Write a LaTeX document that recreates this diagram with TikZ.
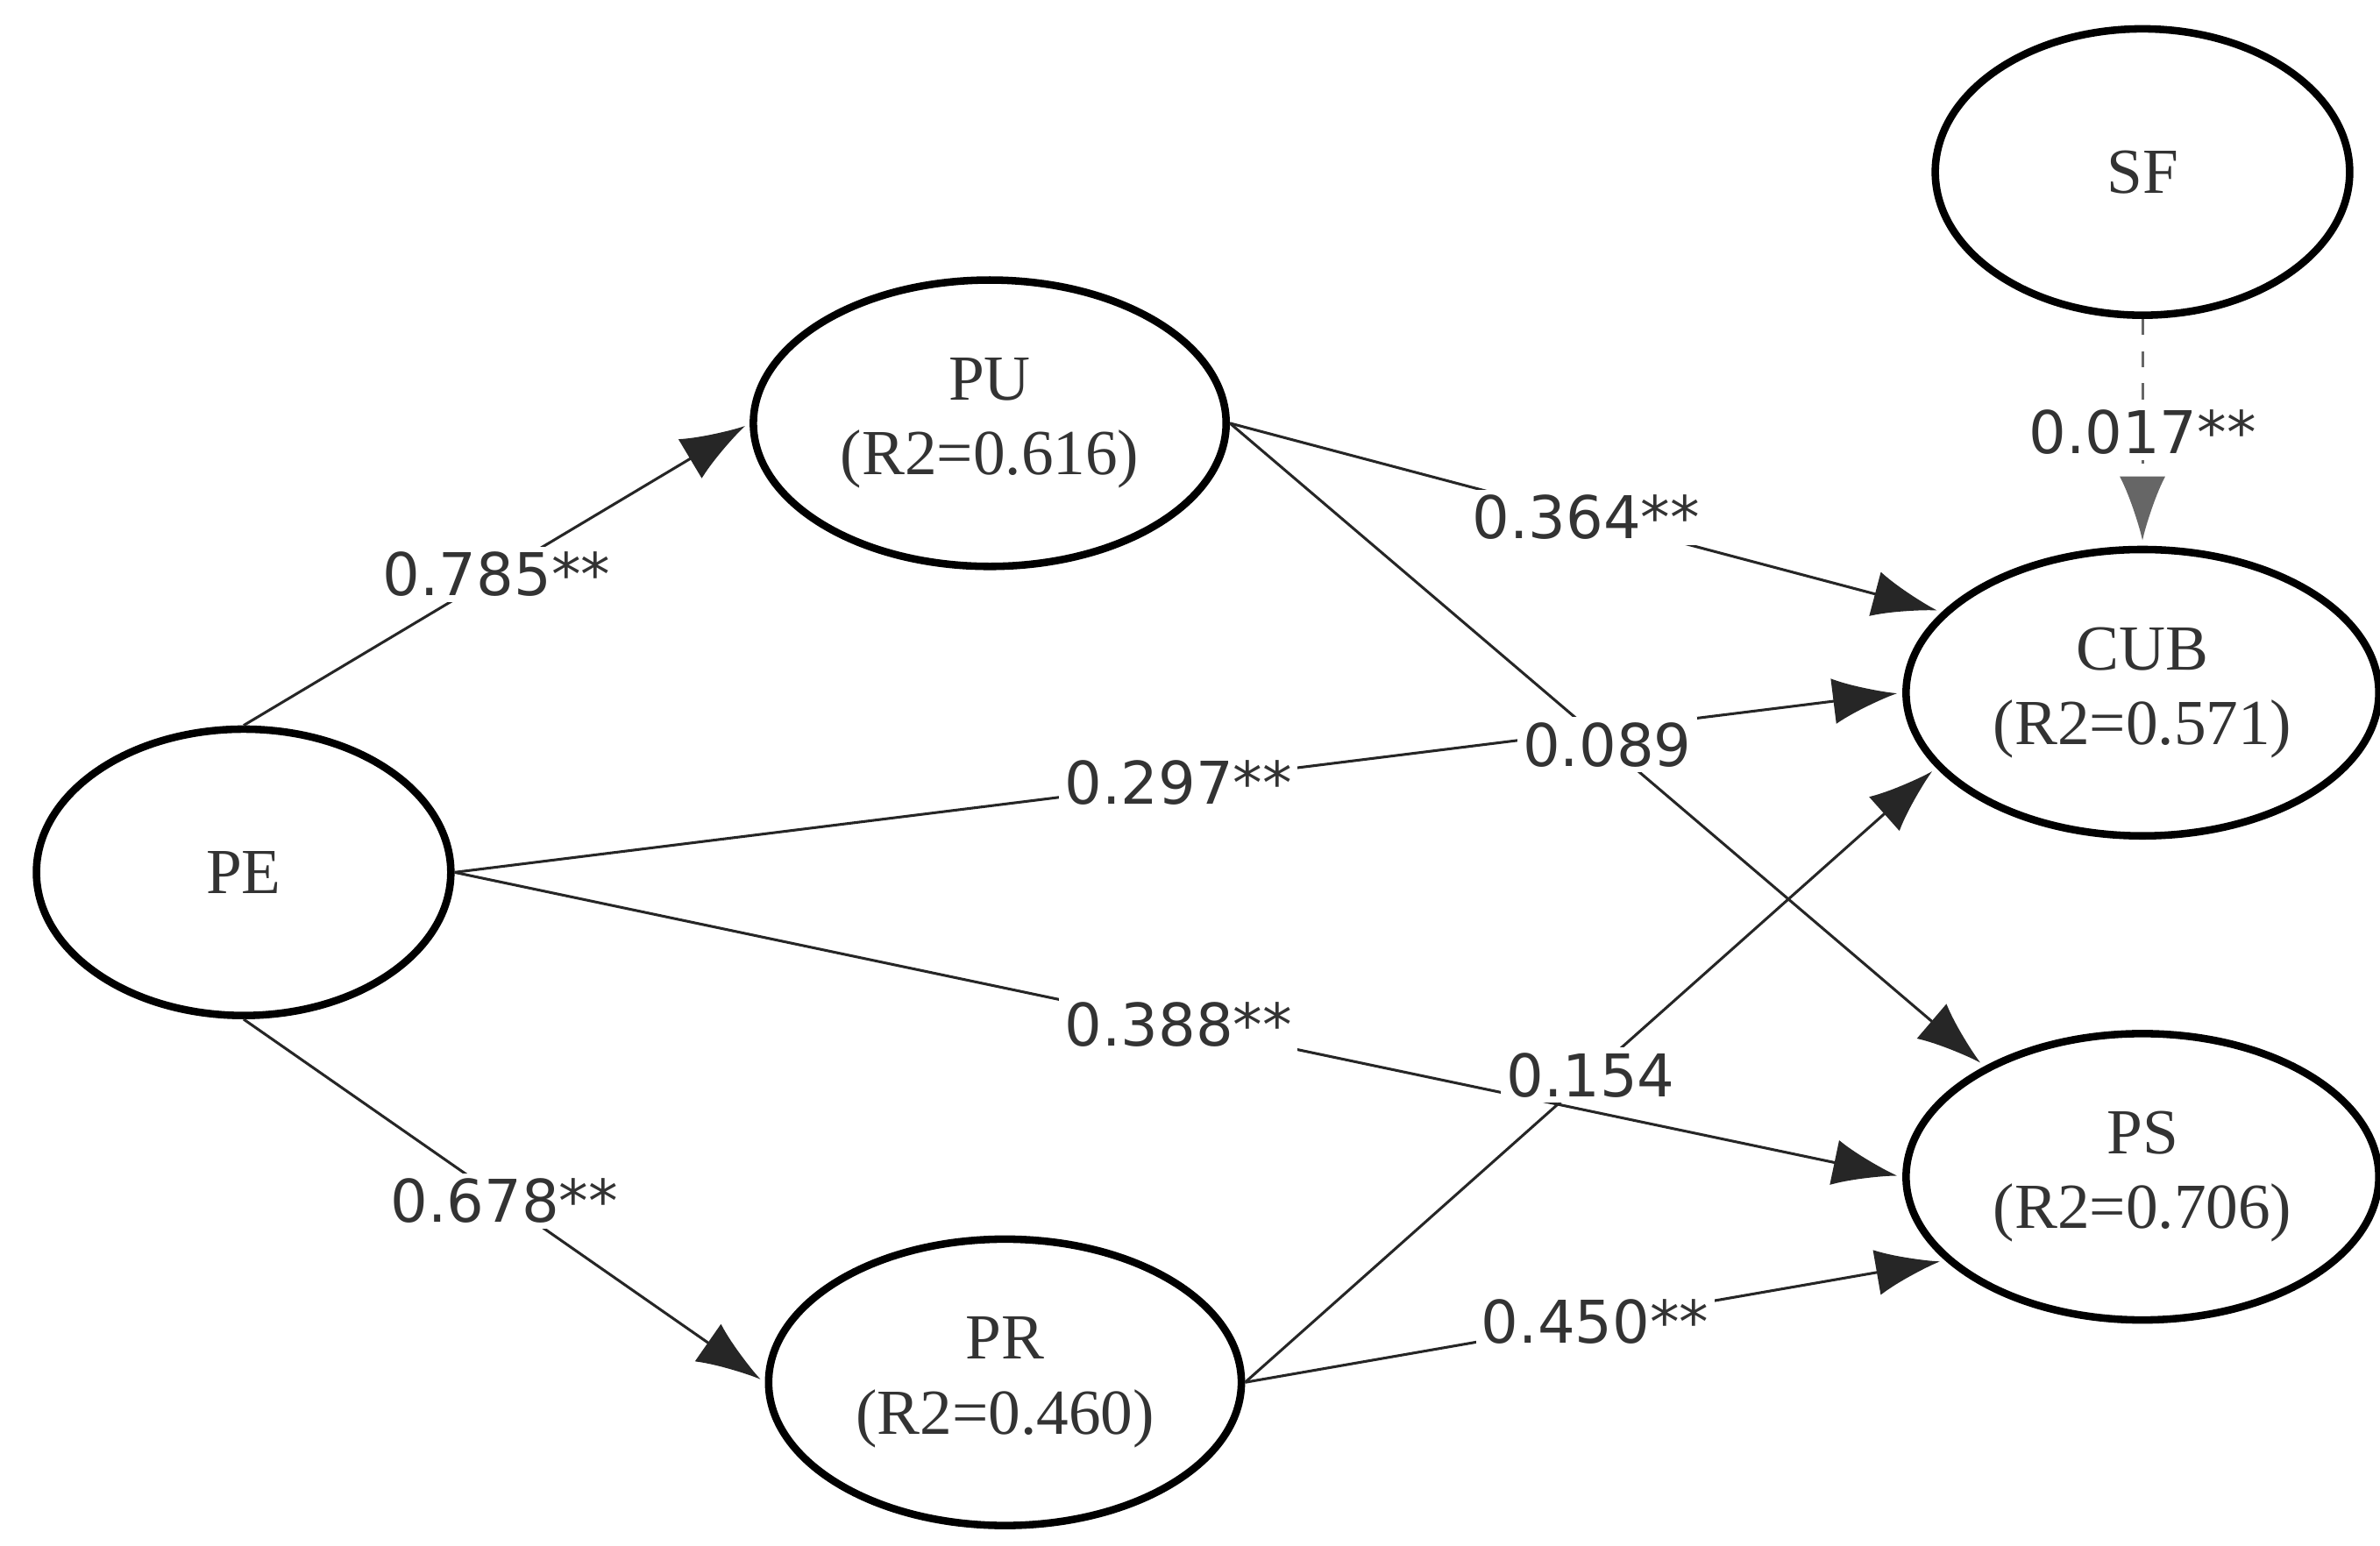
\documentclass[tikz,border=0pt]{standalone}
\usepackage{fontspec}
\setmainfont{Liberation Serif}
\newfontfamily\labfont{DejaVu Sans}
\usetikzlibrary{shapes,arrows,arrows.meta,positioning,calc}
\definecolor{txtgray}{HTML}{333333}
\begin{document}
\begin{tikzpicture}[x=0.01cm,y=-0.01cm,>={Latex[length=0.42cm,width=0.3cm]}]
\tikzstyle{latent} = [draw, shape=ellipse, minimum width=2.72cm, minimum height=1.88cm, line width=1.4pt, align=center, text=txtgray, font=\fontsize{12}{14}\selectfont]
\tikzstyle{path} = [->, line width=0.5pt, color=black!85, shorten >=1pt]
\tikzstyle{coef} = [fill=white, inner sep=1pt, text=txtgray, font=\labfont\fontsize{11}{13}\selectfont]
\useasboundingbox (0,0) rectangle (1563,1015);
%Creating latent variables
\node at (160,573) [latent] (PE) {PE};
\node at (650,278) [latent] (PU) {PU\\(R2=0.616)};
\node at (660,908) [latent] (PR) {PR\\(R2=0.460)};
\node at (1407,113) [latent] (SF) {SF};
\node at (1407,455) [latent] (CUB) {CUB\\(R2=0.571)};
\node at (1407,773) [latent] (PS) {PS\\(R2=0.706)};
%Paths
\draw[path] (PE.north) -- node[coef,pos=0.5] {0.785**} (PU.west);
\draw[path] (PE.south) -- node[coef,pos=0.5] {0.678**} (PR.west);
\draw[path] (PE.east) -- node[coef,pos=0.5] {0.297**} (CUB.west);
\draw[path] (PE.east) -- node[coef,pos=0.5] {0.388**} (PS.west);
\draw[path] (PU.east) -- node[coef,pos=0.5] {0.364**} (CUB.158);
\draw[path] (PU.east) -- node[coef,pos=0.5] {0.089} (PS.145);
\draw[path] (PR.east) -- node[coef,pos=0.5] {0.154} (CUB.200);
\draw[path] (PR.east) -- node[coef,pos=0.5] {0.450**} (PS.203);
\draw[path, dashed, color=black!60] (SF.south) -- node[coef,pos=0.5] {0.017**} (CUB.north);
\end{tikzpicture}
\end{document}
